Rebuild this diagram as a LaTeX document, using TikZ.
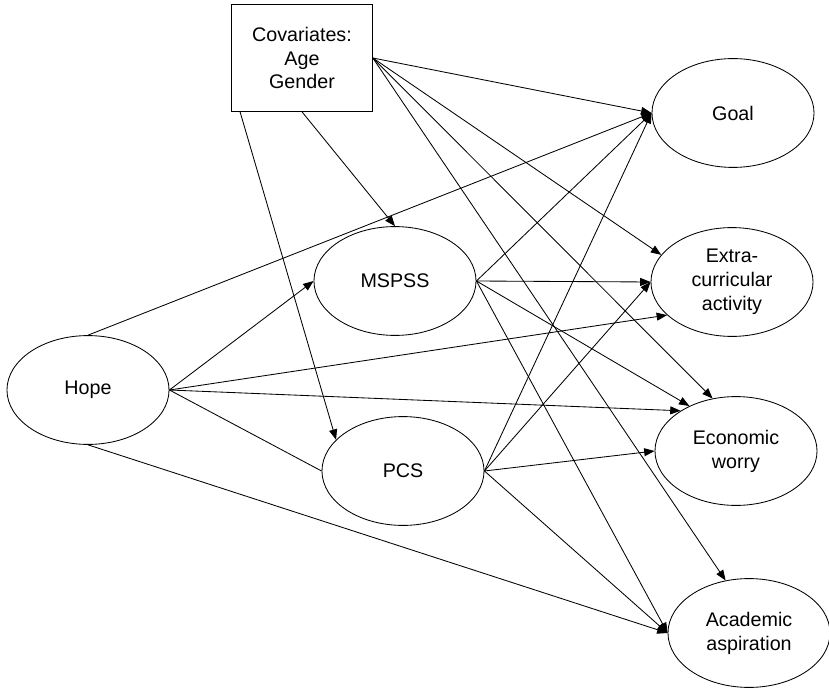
\documentclass[tikz,border=0pt]{standalone}
\usepackage{fontspec}
\setmainfont{Liberation Sans}
\usetikzlibrary{arrows.meta,shapes.geometric}

\begin{document}
\begin{tikzpicture}[x=0.025cm,y=-0.025cm,line width=0.6pt,
  latent/.style={draw,ellipse,minimum width=4.05cm,minimum height=2.72cm,inner sep=0pt,align=center,font=\fontsize{14}{17}\selectfont},
  covbox/.style={draw,rectangle,minimum width=3.52cm,minimum height=2.67cm,inner sep=0pt,align=center,font=\fontsize{14}{17}\selectfont},
  arr/.style={-{Triangle[length=2.6mm,width=2mm]}}]
  \useasboundingbox (0,0) rectangle (829,689);

  \node[covbox] (cov) at (302,58) {Covariates:\\Age\\Gender};
  \node[latent] (hope) at (88,390) {Hope};
  \node[latent] (mspss) at (395,281) {MSPSS};
  \node[latent] (pcs) at (403,471) {PCS};
  \node[latent] (goal) at (733,113) {Goal};
  \node[latent] (extra) at (732,282) {Extra-\\curricular\\activity};
  \node[latent] (econ) at (736,451) {Economic\\worry};
  \node[latent] (acad) at (749,633) {Academic\\aspiration};

  % covariates
  \draw[arr] (cov.221) -- (pcs.155);
  \draw[arr] (cov.south) -- (mspss.north);
  \draw[arr] (cov.east) -- (goal.west);
  \draw[arr] (cov.east) -- (extra.159);
  \draw[arr] (cov.east) -- (econ.114);
  \draw[arr] (cov.east) -- (acad.114);

  % hope
  \draw[arr] (hope.east) -- (mspss.west);
  \draw (hope.east) -- (pcs.west);
  \draw[arr] (hope.north) -- (goal.west);
  \draw[arr] (hope.east) -- (extra.207);
  \draw[arr] (hope.east) -- (econ.144);
  \draw[arr] (hope.south) -- (acad.west);

  % mediators
  \draw[arr] (mspss.east) -- (goal.west);
  \draw[arr] (mspss.east) -- (extra.west);
  \draw[arr] (mspss.east) -- (econ.136);
  \draw[arr] (mspss.east) -- (acad.west);
  \draw[arr] (pcs.east) -- (goal.west);
  \draw[arr] (pcs.east) -- (extra.west);
  \draw[arr] (pcs.east) -- (econ.west);
  \draw[arr] (pcs.east) -- (acad.west);
\end{tikzpicture}
\end{document}
